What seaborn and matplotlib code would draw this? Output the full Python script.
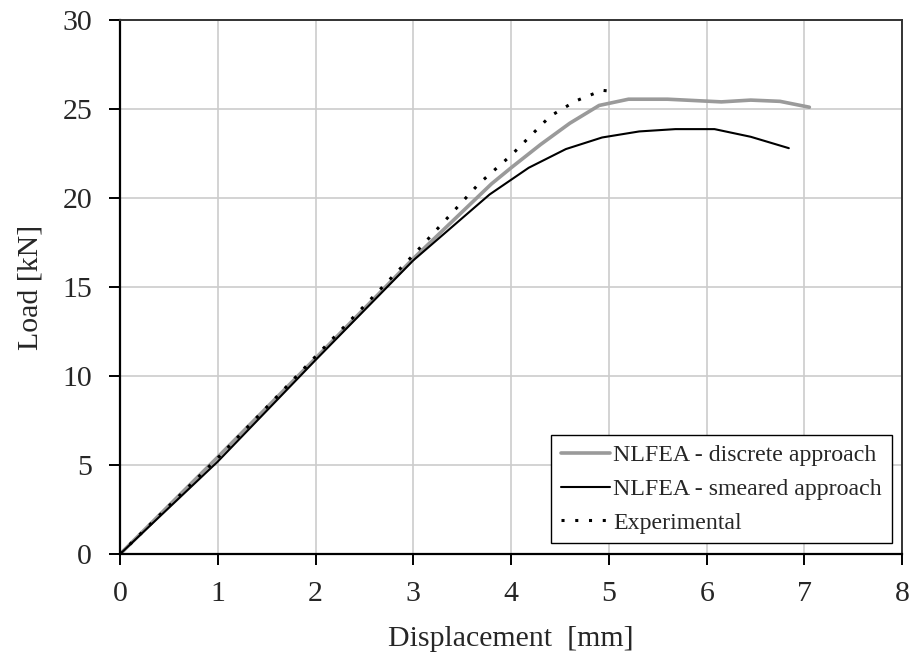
import numpy as np
import pandas as pd
import matplotlib
matplotlib.use("Agg")
import matplotlib.pyplot as plt
import seaborn as sns

# Data
disc_x = [0, 1, 2, 3, 3.8, 4.0, 4.3, 4.6, 4.9, 5.2, 5.6, 6.15, 6.45, 6.75, 7.05]
disc_y = [0, 5.45, 11.0, 16.6, 20.8, 21.7, 23.0, 24.2, 25.2, 25.55, 25.55, 25.4, 25.5, 25.43, 25.1]

smear_x = [0, 1, 2, 3, 3.78, 4.18, 4.56, 4.93, 5.31, 5.68, 6.08, 6.45, 6.84]
smear_y = [0, 5.2, 10.9, 16.5, 20.2, 21.7, 22.75, 23.4, 23.74, 23.87, 23.87, 23.44, 22.8]

exp_x = [0, 1, 2, 3, 3.67, 4.0, 4.2, 4.4, 4.66, 4.93, 5.02]
exp_y = [0, 5.4, 11.1, 16.8, 20.8, 22.4, 23.5, 24.6, 25.45, 26.05, 26.0]

labels = ["NLFEA - discrete approach", "NLFEA - smeared approach", "Experimental"]

df = pd.concat([
    pd.DataFrame({"x": disc_x, "y": disc_y, "series": labels[0]}),
    pd.DataFrame({"x": smear_x, "y": smear_y, "series": labels[1]}),
    pd.DataFrame({"x": exp_x, "y": exp_y, "series": labels[2]}),
])

sns.set_style("whitegrid")
plt.rcParams['font.family'] = ['Liberation Serif', 'DejaVu Serif']

fig, ax = plt.subplots(figsize=(9.16, 6.66), dpi=100)
fig.subplots_adjust(left=0.131, right=0.985, bottom=0.168, top=0.97)

styles = {
    labels[0]: dict(color="#9a9a9a", lw=2.6, ls="-"),
    labels[1]: dict(color="black", lw=1.5, ls="-"),
    labels[2]: dict(color="black", lw=2.2, ls=(0, (1, 3.5))),
}
for name in labels:
    sub = df[df["series"] == name]
    st = styles[name]
    sns.lineplot(data=sub, x="x", y="y", ax=ax, sort=False, label=name,
                 color=st["color"], linewidth=st["lw"], linestyle=st["ls"])

ax.set_xlim(0, 8)
ax.set_ylim(0, 30)
ax.set_xticks(range(0, 9))
ax.set_yticks(range(0, 31, 5))
ax.grid(True, color="#cccccc", linewidth=1.2)

for side in ["left", "bottom"]:
    ax.spines[side].set_color("black")
    ax.spines[side].set_linewidth(1.6)
for side in ["top", "right"]:
    ax.spines[side].set_color("#333333")
    ax.spines[side].set_linewidth(1.4)

ax.tick_params(axis="both", which="major", direction="out", length=8, width=1.4,
               color="black", labelsize=21.5, left=True, bottom=True)
ax.tick_params(axis="x", pad=11)
ax.tick_params(axis="y", pad=12)

ax.set_xlabel("Displacement  [mm]", fontsize=21.5, labelpad=14)
ax.set_ylabel("Load [kN]", fontsize=21.5, labelpad=14)

leg = ax.legend(loc="lower right", fontsize=17.2, frameon=True, fancybox=False,
                edgecolor="black", framealpha=1, borderaxespad=0.45,
                handlelength=2.05, handletextpad=0.15, borderpad=0.4, labelspacing=0.5)
leg.get_frame().set_linewidth(1.0)

fig.savefig("out.png", dpi=100)
